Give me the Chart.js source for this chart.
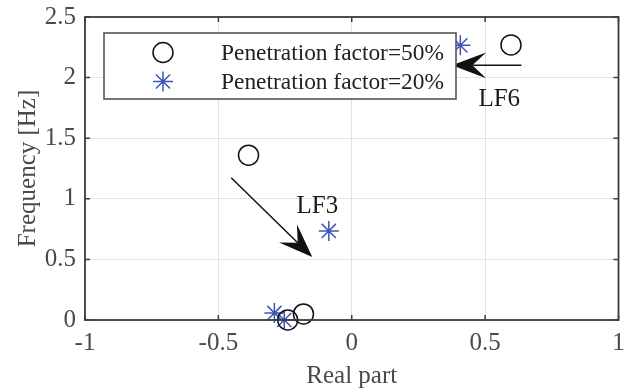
<!DOCTYPE html>
<html>
<head>
<meta charset="utf-8">
<script src="https://cdn.jsdelivr.net/npm/chart.js@4/dist/chart.umd.min.js"></script>
<style>
  html, body { margin: 0; padding: 0; background: #fff; }
</style>
</head>
<body>
<canvas id="myChart" width="630" height="391"></canvas>
<script>
// values
const pf50Real = [0.597, -0.387, -0.181, -0.24];
const pf50Freq = [2.27, 1.36, 0.05, 0.0];
const pf20Real = [0.407, -0.086, -0.29, -0.253];
const pf20Freq = [2.266, 0.735, 0.058, 0.0];

const seriesNames = ['Penetration factor=50%', 'Penetration factor=20%'];
const xTicks = [-1, -0.5, 0, 0.5, 1];
const yTicks = [0, 0.5, 1, 1.5, 2, 2.5];

// annotations in data units: [x, y]
const lf6Arrow = [[0.636, 2.101], [0.376, 2.101]];
const lf3Arrow = [[-0.452, 1.174], [-0.148, 0.519]];
const lf6Label = ['LF6', 0.553, 1.764];
const lf3Label = ['LF3', -0.129, 0.886];

const axisColor = '#3c3c3c';
const textColor = '#4a4a4a';
const starBlue = '#3d55b5';

Chart.defaults.font.family = "'Liberation Serif', 'Times New Roman', serif";

function toPoints(xs, ys) {
    return xs.map((x, i) => ({ x: x, y: ys[i] }));
}

function drawArrow(ctx, x1, y1, x2, y2) {
    const len = 34, half = 12.8, notch = 0.6;
    const dx = x2 - x1, dy = y2 - y1;
    const d = Math.sqrt(dx * dx + dy * dy);
    const ux = dx / d, uy = dy / d;
    const nx = -uy, ny = ux;
    ctx.beginPath();
    ctx.moveTo(x1, y1);
    ctx.lineTo(x2 - ux * len * notch, y2 - uy * len * notch);
    ctx.stroke();
    ctx.beginPath();
    ctx.moveTo(x2, y2);
    ctx.lineTo(x2 - ux * len + nx * half, y2 - uy * len + ny * half);
    ctx.lineTo(x2 - ux * len * notch, y2 - uy * len * notch);
    ctx.lineTo(x2 - ux * len - nx * half, y2 - uy * len - ny * half);
    ctx.closePath();
    ctx.fill();
}

const matlabAxes = {
    id: 'matlabAxes',
    afterDatasetsDraw(chart) {
        const ctx = chart.ctx;
        const a = chart.chartArea;
        const xs = chart.scales.x, ys = chart.scales.y;
        ctx.save();

        // box and inward ticks
        ctx.strokeStyle = axisColor;
        ctx.lineWidth = 1.8;
        ctx.strokeRect(a.left, a.top, a.right - a.left, a.bottom - a.top);
        ctx.lineWidth = 1.5;
        ctx.beginPath();
        xTicks.forEach(v => {
            const px = xs.getPixelForValue(v);
            ctx.moveTo(px, a.bottom); ctx.lineTo(px, a.bottom - 5);
            ctx.moveTo(px, a.top); ctx.lineTo(px, a.top + 5);
        });
        yTicks.forEach(v => {
            const py = ys.getPixelForValue(v);
            ctx.moveTo(a.left, py); ctx.lineTo(a.left + 5, py);
            ctx.moveTo(a.right, py); ctx.lineTo(a.right - 5, py);
        });
        ctx.stroke();

        // arrows
        ctx.strokeStyle = '#111';
        ctx.fillStyle = '#111';
        ctx.lineWidth = 1.5;
        [lf6Arrow, lf3Arrow].forEach(arr => {
            drawArrow(ctx,
                xs.getPixelForValue(arr[0][0]), ys.getPixelForValue(arr[0][1]),
                xs.getPixelForValue(arr[1][0]), ys.getPixelForValue(arr[1][1]));
        });

        // labels
        ctx.font = "25px 'Liberation Serif', serif";
        ctx.textAlign = 'center';
        ctx.textBaseline = 'alphabetic';
        ctx.fillStyle = '#1a1a1a';
        [lf6Label, lf3Label].forEach(l => {
            ctx.fillText(l[0], xs.getPixelForValue(l[1]), ys.getPixelForValue(l[2]));
        });

        // legend box
        const lx = a.left + 19, ly = a.top + 16, lw = 352, lh = 66;
        ctx.fillStyle = '#fff';
        ctx.fillRect(lx, ly, lw, lh);
        ctx.strokeStyle = '#555';
        ctx.lineWidth = 1.6;
        ctx.strokeRect(lx, ly, lw, lh);
        const rows = [ly + 19.5, ly + 48.5];
        const symX = lx + 59;
        // circle
        ctx.strokeStyle = '#111';
        ctx.lineWidth = 1.5;
        ctx.beginPath();
        ctx.arc(symX, rows[0], 10, 0, Math.PI * 2);
        ctx.stroke();
        // star
        ctx.strokeStyle = starBlue;
        ctx.beginPath();
        for (let k = 0; k < 4; k++) {
            const ang = k * Math.PI / 4;
            ctx.moveTo(symX + Math.cos(ang) * 10, rows[1] + Math.sin(ang) * 10);
            ctx.lineTo(symX - Math.cos(ang) * 10, rows[1] - Math.sin(ang) * 10);
        }
        ctx.stroke();
        ctx.fillStyle = '#222';
        ctx.font = "23.4px 'Liberation Serif', serif";
        ctx.textAlign = 'left';
        ctx.textBaseline = 'middle';
        seriesNames.forEach((name, i) => {
            ctx.fillText(name, lx + 117, rows[i] + 1);
        });

        ctx.restore();
    }
};

const ctx = document.getElementById('myChart').getContext('2d');
new Chart(ctx, {
    type: 'scatter',
    data: {
        datasets: [{
            label: seriesNames[0],
            data: toPoints(pf50Real, pf50Freq),
            pointStyle: 'circle',
            pointRadius: 10,
            pointHoverRadius: 10,
            borderColor: '#111',
            backgroundColor: 'rgba(0,0,0,0)',
            borderWidth: 1.5,
            clip: false
        }, {
            label: seriesNames[1],
            data: toPoints(pf20Real, pf20Freq),
            pointStyle: 'star',
            pointRadius: 10,
            pointHoverRadius: 10,
            borderColor: starBlue,
            backgroundColor: starBlue,
            borderWidth: 1.5,
            clip: false
        }]
    },
    options: {
        responsive: false,
        animation: false,
        events: [],
        layout: { padding: { top: 17, right: 7, left: 0, bottom: 0 } },
        plugins: {
            legend: { display: false },
            tooltip: { enabled: false }
        },
        scales: {
            x: {
                type: 'linear',
                min: -1,
                max: 1,
                afterFit: scale => {
                    scale.height = 71;
                    scale.paddingLeft = 0;
                    scale.paddingRight = 0;
                },
                afterBuildTicks: scale => { scale.ticks = xTicks.map(v => ({ value: v })); },
                ticks: {
                    color: textColor,
                    font: { size: 25 },
                    padding: 8,
                    callback: v => String(v)
                },
                grid: { color: '#e3e3e3', lineWidth: 1, drawTicks: false },
                border: { display: false },
                title: {
                    display: true,
                    text: 'Real part',
                    color: textColor,
                    font: { size: 25 },
                    padding: { top: 5, bottom: 0 }
                }
            },
            y: {
                type: 'linear',
                min: 0,
                max: 2.5,
                afterFit: scale => {
                    scale.width = 85;
                    scale.paddingTop = 0;
                    scale.paddingBottom = 0;
                },
                afterBuildTicks: scale => { scale.ticks = yTicks.map(v => ({ value: v })); },
                ticks: {
                    color: textColor,
                    font: { size: 25 },
                    padding: 9,
                    callback: v => String(v)
                },
                grid: { color: '#e3e3e3', lineWidth: 1, drawTicks: false },
                border: { display: false },
                title: {
                    display: true,
                    text: 'Frequency [Hz]',
                    color: textColor,
                    font: { size: 25 },
                    padding: { top: 13, bottom: 0 }
                }
            }
        }
    },
    plugins: [matlabAxes]
});
</script>
</body>
</html>
